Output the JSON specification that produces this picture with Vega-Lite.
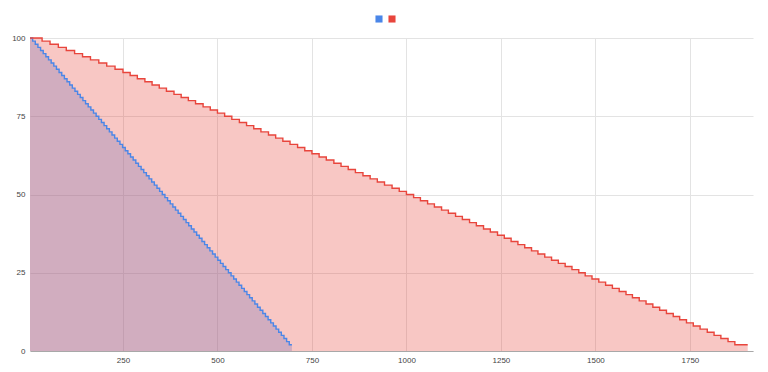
{
  "$schema": "https://vega.github.io/schema/vega-lite/v6.json",
  "width": 723,
  "height": 313,
  "autosize": {"type": "none"},
  "padding": {"left": 30, "top": 38, "right": 15, "bottom": 21},
  "background": "#ffffff",
  "config": {"view": {"stroke": null}},
  "data": {"values": [
    {"s":"a","x":4,"y":100},{"s":"a","x":11,"y":99},{"s":"a","x":18,"y":98},{"s":"a","x":25,"y":97},{"s":"a","x":32,"y":96},{"s":"a","x":39,"y":95},{"s":"a","x":46,"y":94},{"s":"a","x":53,"y":93},{"s":"a","x":60,"y":92},{"s":"a","x":67,"y":91},
    {"s":"a","x":74,"y":90},{"s":"a","x":81,"y":89},{"s":"a","x":88,"y":88},{"s":"a","x":95,"y":87},{"s":"a","x":102,"y":86},{"s":"a","x":109,"y":85},{"s":"a","x":116,"y":84},{"s":"a","x":123,"y":83},{"s":"a","x":130,"y":82},{"s":"a","x":137,"y":81},
    {"s":"a","x":144,"y":80},{"s":"a","x":151,"y":79},{"s":"a","x":158,"y":78},{"s":"a","x":165,"y":77},{"s":"a","x":172,"y":76},{"s":"a","x":179,"y":75},{"s":"a","x":186,"y":74},{"s":"a","x":193,"y":73},{"s":"a","x":200,"y":72},{"s":"a","x":207,"y":71},
    {"s":"a","x":214,"y":70},{"s":"a","x":221,"y":69},{"s":"a","x":228,"y":68},{"s":"a","x":235,"y":67},{"s":"a","x":242,"y":66},{"s":"a","x":249,"y":65},{"s":"a","x":256,"y":64},{"s":"a","x":263,"y":63},{"s":"a","x":270,"y":62},{"s":"a","x":277,"y":61},
    {"s":"a","x":284,"y":60},{"s":"a","x":291,"y":59},{"s":"a","x":298,"y":58},{"s":"a","x":305,"y":57},{"s":"a","x":312,"y":56},{"s":"a","x":319,"y":55},{"s":"a","x":326,"y":54},{"s":"a","x":333,"y":53},{"s":"a","x":340,"y":52},{"s":"a","x":347,"y":51},
    {"s":"a","x":354,"y":50},{"s":"a","x":361,"y":49},{"s":"a","x":368,"y":48},{"s":"a","x":375,"y":47},{"s":"a","x":382,"y":46},{"s":"a","x":389,"y":45},{"s":"a","x":396,"y":44},{"s":"a","x":403,"y":43},{"s":"a","x":410,"y":42},{"s":"a","x":417,"y":41},
    {"s":"a","x":424,"y":40},{"s":"a","x":431,"y":39},{"s":"a","x":438,"y":38},{"s":"a","x":445,"y":37},{"s":"a","x":452,"y":36},{"s":"a","x":459,"y":35},{"s":"a","x":466,"y":34},{"s":"a","x":473,"y":33},{"s":"a","x":480,"y":32},{"s":"a","x":487,"y":31},
    {"s":"a","x":494,"y":30},{"s":"a","x":501,"y":29},{"s":"a","x":508,"y":28},{"s":"a","x":515,"y":27},{"s":"a","x":522,"y":26},{"s":"a","x":529,"y":25},{"s":"a","x":536,"y":24},{"s":"a","x":543,"y":23},{"s":"a","x":550,"y":22},{"s":"a","x":557,"y":21},
    {"s":"a","x":564,"y":20},{"s":"a","x":571,"y":19},{"s":"a","x":578,"y":18},{"s":"a","x":585,"y":17},{"s":"a","x":592,"y":16},{"s":"a","x":599,"y":15},{"s":"a","x":606,"y":14},{"s":"a","x":613,"y":13},{"s":"a","x":620,"y":12},{"s":"a","x":627,"y":11},
    {"s":"a","x":634,"y":10},{"s":"a","x":641,"y":9},{"s":"a","x":648,"y":8},{"s":"a","x":655,"y":7},{"s":"a","x":662,"y":6},{"s":"a","x":669,"y":5},{"s":"a","x":676,"y":4},{"s":"a","x":683,"y":3},{"s":"a","x":690,"y":2},{"s":"a","x":697,"y":2},
    {"s":"b","x":4,"y":100},{"s":"b","x":36,"y":99},{"s":"b","x":57,"y":98},{"s":"b","x":79,"y":97},{"s":"b","x":100,"y":96},{"s":"b","x":122,"y":95},{"s":"b","x":143,"y":94},{"s":"b","x":164,"y":93},{"s":"b","x":186,"y":92},{"s":"b","x":207,"y":91},
    {"s":"b","x":229,"y":90},{"s":"b","x":250,"y":89},{"s":"b","x":269,"y":88},{"s":"b","x":288,"y":87},{"s":"b","x":308,"y":86},{"s":"b","x":327,"y":85},{"s":"b","x":346,"y":84},{"s":"b","x":365,"y":83},{"s":"b","x":385,"y":82},{"s":"b","x":404,"y":81},
    {"s":"b","x":423,"y":80},{"s":"b","x":442,"y":79},{"s":"b","x":462,"y":78},{"s":"b","x":481,"y":77},{"s":"b","x":500,"y":76},{"s":"b","x":519,"y":75},{"s":"b","x":538,"y":74},{"s":"b","x":558,"y":73},{"s":"b","x":577,"y":72},{"s":"b","x":596,"y":71},
    {"s":"b","x":615,"y":70},{"s":"b","x":635,"y":69},{"s":"b","x":654,"y":68},{"s":"b","x":673,"y":67},{"s":"b","x":692,"y":66},{"s":"b","x":712,"y":65},{"s":"b","x":731,"y":64},{"s":"b","x":750,"y":63},{"s":"b","x":769,"y":62},{"s":"b","x":788,"y":61},
    {"s":"b","x":808,"y":60},{"s":"b","x":827,"y":59},{"s":"b","x":846,"y":58},{"s":"b","x":865,"y":57},{"s":"b","x":885,"y":56},{"s":"b","x":904,"y":55},{"s":"b","x":923,"y":54},{"s":"b","x":942,"y":53},{"s":"b","x":962,"y":52},{"s":"b","x":981,"y":51},
    {"s":"b","x":1000,"y":50},{"s":"b","x":1019,"y":49},{"s":"b","x":1037,"y":48},{"s":"b","x":1056,"y":47},{"s":"b","x":1074,"y":46},{"s":"b","x":1093,"y":45},{"s":"b","x":1111,"y":44},{"s":"b","x":1130,"y":43},{"s":"b","x":1148,"y":42},{"s":"b","x":1167,"y":41},
    {"s":"b","x":1185,"y":40},{"s":"b","x":1204,"y":39},{"s":"b","x":1222,"y":38},{"s":"b","x":1241,"y":37},{"s":"b","x":1259,"y":36},{"s":"b","x":1277,"y":35},{"s":"b","x":1295,"y":34},{"s":"b","x":1313,"y":33},{"s":"b","x":1331,"y":32},{"s":"b","x":1348,"y":31},
    {"s":"b","x":1366,"y":30},{"s":"b","x":1384,"y":29},{"s":"b","x":1402,"y":28},{"s":"b","x":1420,"y":27},{"s":"b","x":1438,"y":26},{"s":"b","x":1456,"y":25},{"s":"b","x":1473,"y":24},{"s":"b","x":1491,"y":23},{"s":"b","x":1509,"y":22},{"s":"b","x":1527,"y":21},
    {"s":"b","x":1545,"y":20},{"s":"b","x":1563,"y":19},{"s":"b","x":1581,"y":18},{"s":"b","x":1598,"y":17},{"s":"b","x":1616,"y":16},{"s":"b","x":1634,"y":15},{"s":"b","x":1652,"y":14},{"s":"b","x":1670,"y":13},{"s":"b","x":1688,"y":12},{"s":"b","x":1706,"y":11},
    {"s":"b","x":1723,"y":10},{"s":"b","x":1741,"y":9},{"s":"b","x":1759,"y":8},{"s":"b","x":1777,"y":7},{"s":"b","x":1796,"y":6},{"s":"b","x":1814,"y":5},{"s":"b","x":1832,"y":4},{"s":"b","x":1851,"y":3},{"s":"b","x":1869,"y":2},{"s":"b","x":1903,"y":2}
  ]},
  "encoding": {
    "x": {"field": "x", "type": "quantitative",
      "scale": {"domain": [4, 1917], "nice": false, "zero": false},
      "axis": {"title": null, "values": [250, 500, 750, 1000, 1250, 1500, 1750], "format": "d", "ticks": false, "labelPadding": 5,
        "labelFontSize": 8, "labelColor": "#444444", "labelFont": "Arial, Liberation Sans, sans-serif",
        "gridColor": "#e3e3e3", "domain": true, "domainColor": "#a8a8a8", "domainWidth": 1}},
    "y": {"field": "y", "type": "quantitative", "stack": null,
      "scale": {"domain": [0, 100], "nice": false},
      "axis": {"title": null, "values": [0, 25, 50, 75, 100], "ticks": false, "domain": false, "labelPadding": 5,
        "labelFontSize": 8, "labelColor": "#444444", "labelFont": "Arial, Liberation Sans, sans-serif",
        "gridColor": "#e3e3e3"}},
    "color": {"field": "s", "type": "nominal",
      "scale": {"domain": ["a", "b"], "range": ["#4a86e8", "#e8453c"]},
      "legend": {"orient": "none", "legendX": 344, "legendY": -24, "direction": "horizontal", "title": null,
        "labelExpr": "''", "labelOffset": 0, "symbolType": "square", "symbolSize": 50, "symbolOpacity": 1,
        "symbolStrokeWidth": 0, "columnPadding": 3}}
  },
  "layer": [
    {"mark": {"type": "area", "interpolate": "step-after", "fillOpacity": 0.3}},
    {"mark": {"type": "line", "interpolate": "step-after", "strokeWidth": 1.4}}
  ]
}
